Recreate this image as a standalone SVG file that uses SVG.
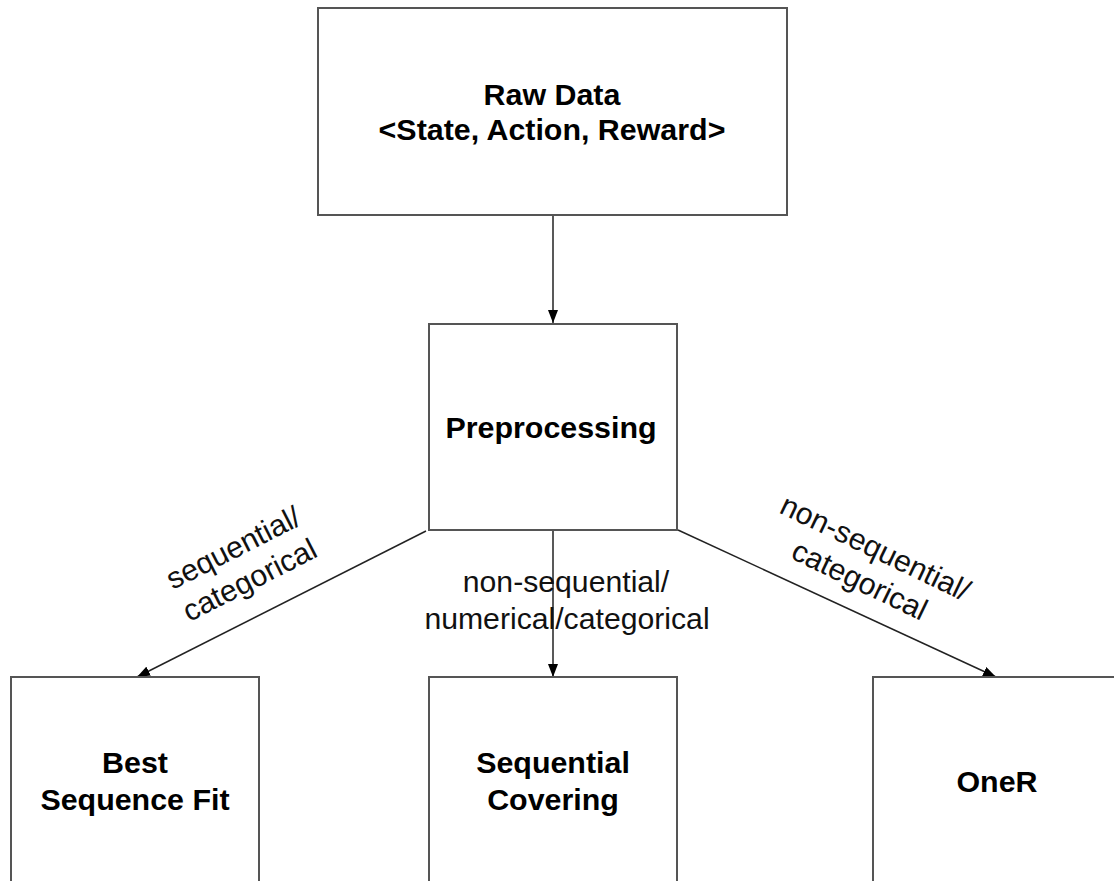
<svg xmlns="http://www.w3.org/2000/svg" width="1114" height="881" viewBox="0 0 1114 881">
  <defs>
    <style>
      .box { fill: #ffffff; stroke: #555555; stroke-width: 2; }
      .title { font-family: "Liberation Sans", Arial, sans-serif; font-weight: bold; font-size: 30.4px; fill: #000000; text-anchor: middle; }
      .label { font-family: "Liberation Sans", Arial, sans-serif; font-size: 30.2px; fill: #111111; text-anchor: middle; }
      .edge { fill: none; stroke: #222222; stroke-width: 1.5; }
    </style>
    <marker id="arrow" viewBox="0 0 13 10" refX="13" refY="5" markerWidth="13" markerHeight="10" markerUnits="userSpaceOnUse" orient="auto">
      <path d="M0,0 L13,5 L0,10 Z" fill="#000000"/>
    </marker>
  </defs>

  <rect width="1114" height="881" fill="#ffffff"/>

  <!-- connectors -->
  <g id="connectors">
    <line class="edge" x1="553" y1="215" x2="553" y2="323" marker-end="url(#arrow)"/>
    <line class="edge" x1="426" y1="531" x2="137" y2="677" marker-end="url(#arrow)"/>
    <line class="edge" x1="553" y1="530" x2="553" y2="677" marker-end="url(#arrow)"/>
    <line class="edge" x1="678" y1="530" x2="996" y2="677" marker-end="url(#arrow)"/>

    <g id="label-left" transform="translate(242,565) rotate(-27)">
      <text class="label" x="0" y="-9">sequential/</text>
      <text class="label" x="0" y="27">categorical</text>
    </g>
    <g id="label-middle">
      <text class="label" x="566" y="592">non-sequential/</text>
      <text class="label" x="567" y="629">numerical/categorical</text>
    </g>
    <g id="label-right" transform="translate(867,565) rotate(25.7)">
      <text class="label" x="0" y="-9">non-sequential/</text>
      <text class="label" x="0" y="27">categorical</text>
    </g>
  </g>

  <!-- nodes -->
  <g id="raw-data">
    <rect class="box" x="318" y="8" width="469" height="207"/>
    <text class="title" x="552" y="105">Raw Data</text>
    <text class="title" x="552" y="140">&lt;State, Action, Reward&gt;</text>
  </g>

  <g id="preprocessing">
    <rect class="box" x="429" y="324" width="248" height="206"/>
    <text class="title" x="551" y="438">Preprocessing</text>
  </g>

  <g id="best-sequence-fit">
    <rect class="box" x="11" y="677" width="248" height="220"/>
    <text class="title" x="135" y="773">Best</text>
    <text class="title" x="135" y="810">Sequence Fit</text>
  </g>

  <g id="sequential-covering">
    <rect class="box" x="429" y="677" width="248" height="220"/>
    <text class="title" x="553" y="773">Sequential</text>
    <text class="title" x="553" y="810">Covering</text>
  </g>

  <g id="oner">
    <rect class="box" x="873" y="677" width="248" height="220"/>
    <text class="title" x="997" y="792">OneR</text>
  </g>
</svg>
